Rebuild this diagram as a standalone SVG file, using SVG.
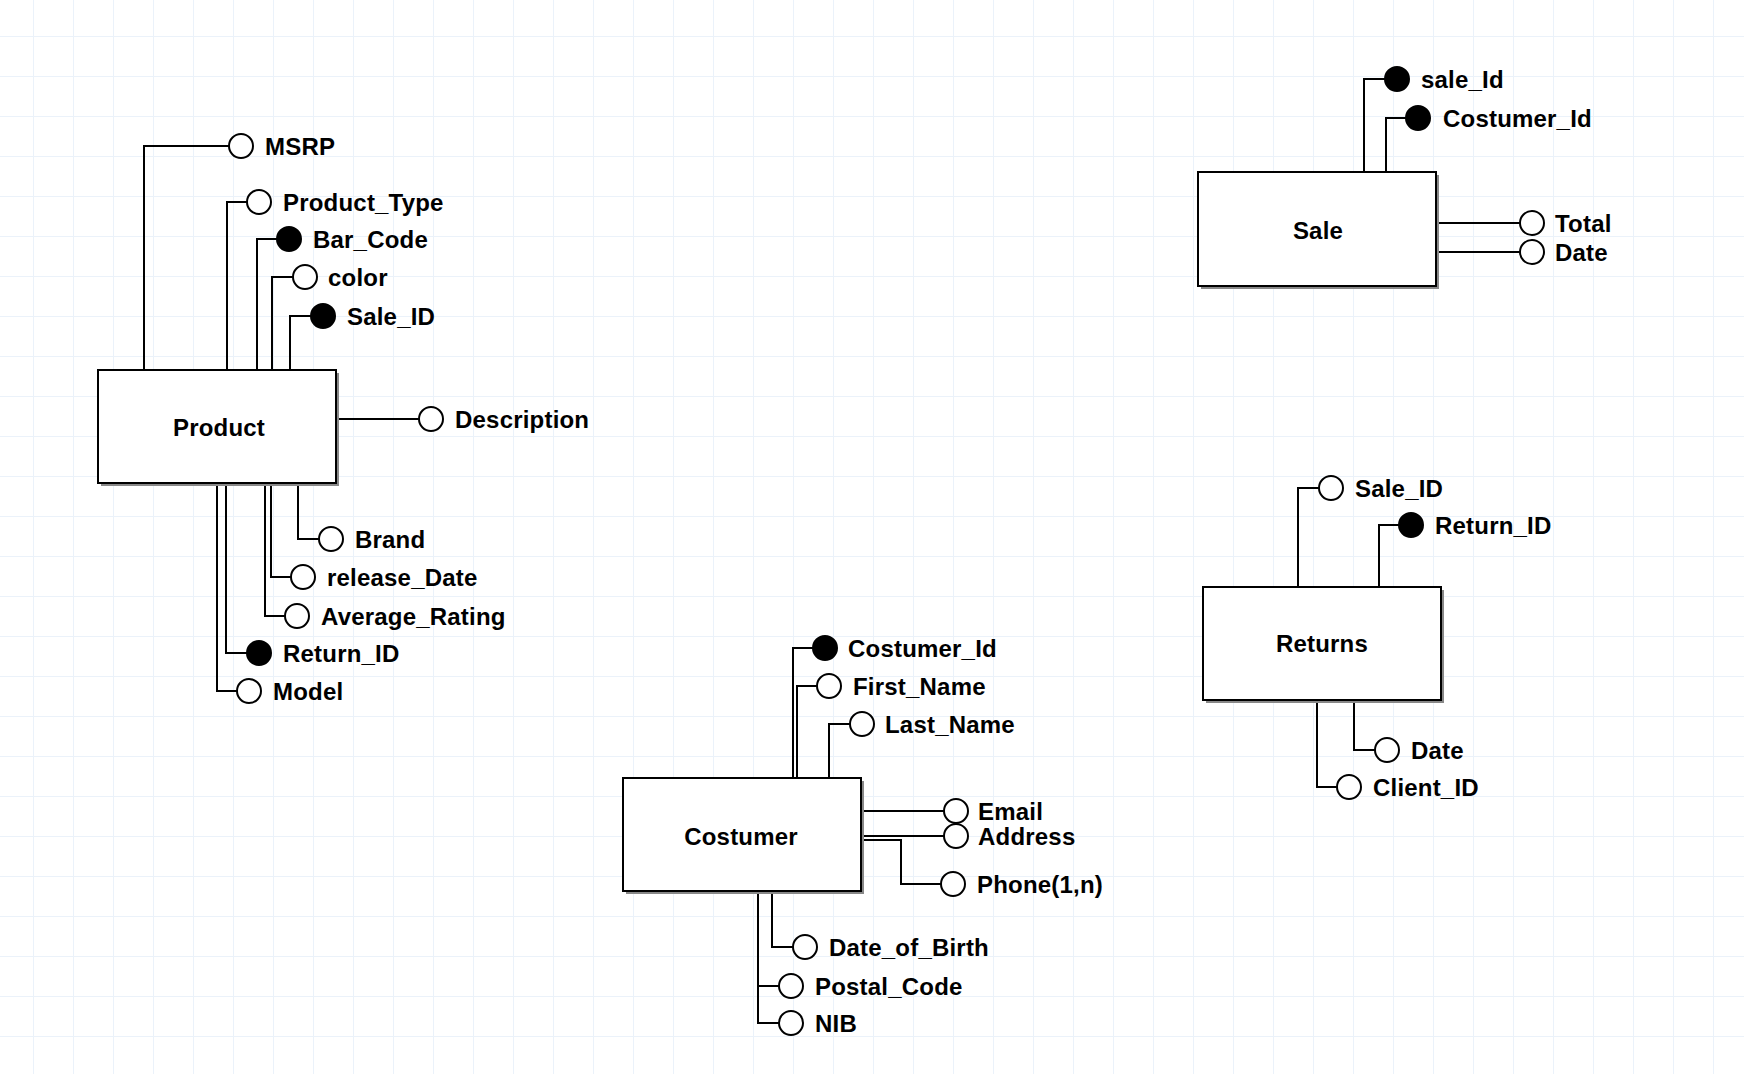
<svg xmlns="http://www.w3.org/2000/svg" width="1744" height="1074" viewBox="0 0 1744 1074">
<defs>
<pattern id="grid" patternUnits="userSpaceOnUse" x="33" y="36" width="40" height="40">
<path d="M0 0 H40 M0 0 V40" fill="none" stroke="#ebf2fa" stroke-width="2"/>
</pattern>
<style>
.box{fill:#fff;stroke:#000;stroke-width:2}
.shadow{fill:#888;stroke:none}
.ent{font-family:"Liberation Sans",Arial,sans-serif;font-weight:bold;font-size:24px;letter-spacing:0.2px;text-anchor:middle}
.lbl{font-family:"Liberation Sans",Arial,sans-serif;font-weight:bold;font-size:24px;letter-spacing:0.2px}
.att{fill:#fff;stroke:#000;stroke-width:2}
.key{fill:#000;stroke:#000;stroke-width:2}
.c{fill:none;stroke:#000;stroke-width:2}
</style>
</defs>
<rect width="1744" height="1074" fill="#fff"/>
<rect width="1744" height="1074" fill="url(#grid)"/>

<g id="connectors">
<path class="c" d="M144 370 V146 H229"/>
<path class="c" d="M227 370 V202 H247"/>
<path class="c" d="M257 370 V239 H277"/>
<path class="c" d="M272 370 V277 H293"/>
<path class="c" d="M290 370 V316 H311"/>
<path class="c" d="M336 419 H419"/>
<path class="c" d="M298 485 V539 H319"/>
<path class="c" d="M271 485 V577 H291"/>
<path class="c" d="M265 485 V616 H285"/>
<path class="c" d="M226 485 V653 H247"/>
<path class="c" d="M217 485 V691 H237"/>
<path class="c" d="M793 778 V648 H813"/>
<path class="c" d="M797 778 V686 H817"/>
<path class="c" d="M829 778 V724 H850"/>
<path class="c" d="M861 811 H944"/>
<path class="c" d="M861 836 H944"/>
<path class="c" d="M861 840 H901 V884 H941"/>
<path class="c" d="M772 893 V947 H793"/>
<path class="c" d="M758 893 V986 H779"/>
<path class="c" d="M758 986 V1023 H779"/>
<path class="c" d="M1364 172 V79 H1385"/>
<path class="c" d="M1386 172 V118 H1406"/>
<path class="c" d="M1437 223 H1520"/>
<path class="c" d="M1437 252 H1520"/>
<path class="c" d="M1298 587 V488 H1319"/>
<path class="c" d="M1379 587 V525 H1399"/>
<path class="c" d="M1354 702 V750 H1375"/>
<path class="c" d="M1317 702 V787 H1337"/>
</g>

<g id="product">
<rect class="shadow" x="101" y="373" width="238" height="113"/>
<rect class="box" x="98" y="370" width="238" height="113"/>
<text class="ent" x="219" y="436">Product</text>
</g>
<g id="product-attrs">
<circle class="att" cx="241" cy="146" r="12"/><text class="lbl" x="265" y="155">MSRP</text>
<circle class="att" cx="259" cy="202" r="12"/><text class="lbl" x="283" y="211">Product_Type</text>
<circle class="key" cx="289" cy="239" r="12"/><text class="lbl" x="313" y="248">Bar_Code</text>
<circle class="att" cx="305" cy="277" r="12"/><text class="lbl" x="328" y="286">color</text>
<circle class="key" cx="323" cy="316" r="12"/><text class="lbl" x="347" y="325">Sale_ID</text>
<circle class="att" cx="431" cy="419" r="12"/><text class="lbl" x="455" y="428">Description</text>
<circle class="att" cx="331" cy="539" r="12"/><text class="lbl" x="355" y="548">Brand</text>
<circle class="att" cx="303" cy="577" r="12"/><text class="lbl" x="327" y="586">release_Date</text>
<circle class="att" cx="297" cy="616" r="12"/><text class="lbl" x="321" y="625">Average_Rating</text>
<circle class="key" cx="259" cy="653" r="12"/><text class="lbl" x="283" y="662">Return_ID</text>
<circle class="att" cx="249" cy="691" r="12"/><text class="lbl" x="273" y="700">Model</text>
</g>

<g id="costumer">
<rect class="shadow" x="626" y="781" width="238" height="113"/>
<rect class="box" x="623" y="778" width="238" height="113"/>
<text class="ent" x="741" y="845">Costumer</text>
</g>
<g id="costumer-attrs">
<circle class="key" cx="825" cy="648" r="12"/><text class="lbl" x="848" y="657">Costumer_Id</text>
<circle class="att" cx="829" cy="686" r="12"/><text class="lbl" x="853" y="695">First_Name</text>
<circle class="att" cx="862" cy="724" r="12"/><text class="lbl" x="885" y="733">Last_Name</text>
<circle class="att" cx="956" cy="811" r="12"/><text class="lbl" x="978" y="820">Email</text>
<circle class="att" cx="956" cy="836" r="12"/><text class="lbl" x="978" y="845">Address</text>
<circle class="att" cx="953" cy="884" r="12"/><text class="lbl" x="977" y="893">Phone(1,n)</text>
<circle class="att" cx="805" cy="947" r="12"/><text class="lbl" x="829" y="956">Date_of_Birth</text>
<circle class="att" cx="791" cy="986" r="12"/><text class="lbl" x="815" y="995">Postal_Code</text>
<circle class="att" cx="791" cy="1023" r="12"/><text class="lbl" x="815" y="1032">NIB</text>
</g>

<g id="sale">
<rect class="shadow" x="1201" y="175" width="238" height="114"/>
<rect class="box" x="1198" y="172" width="238" height="114"/>
<text class="ent" x="1318" y="239">Sale</text>
</g>
<g id="sale-attrs">
<circle class="key" cx="1397" cy="79" r="12"/><text class="lbl" x="1421" y="88">sale_Id</text>
<circle class="key" cx="1418" cy="118" r="12"/><text class="lbl" x="1443" y="127">Costumer_Id</text>
<circle class="att" cx="1532" cy="223" r="12"/><text class="lbl" x="1555" y="232">Total</text>
<circle class="att" cx="1532" cy="252" r="12"/><text class="lbl" x="1555" y="261">Date</text>
</g>

<g id="returns">
<rect class="shadow" x="1206" y="590" width="238" height="113"/>
<rect class="box" x="1203" y="587" width="238" height="113"/>
<text class="ent" x="1322" y="652">Returns</text>
</g>
<g id="returns-attrs">
<circle class="att" cx="1331" cy="488" r="12"/><text class="lbl" x="1355" y="497">Sale_ID</text>
<circle class="key" cx="1411" cy="525" r="12"/><text class="lbl" x="1435" y="534">Return_ID</text>
<circle class="att" cx="1387" cy="750" r="12"/><text class="lbl" x="1411" y="759">Date</text>
<circle class="att" cx="1349" cy="787" r="12"/><text class="lbl" x="1373" y="796">Client_ID</text>
</g>
</svg>
